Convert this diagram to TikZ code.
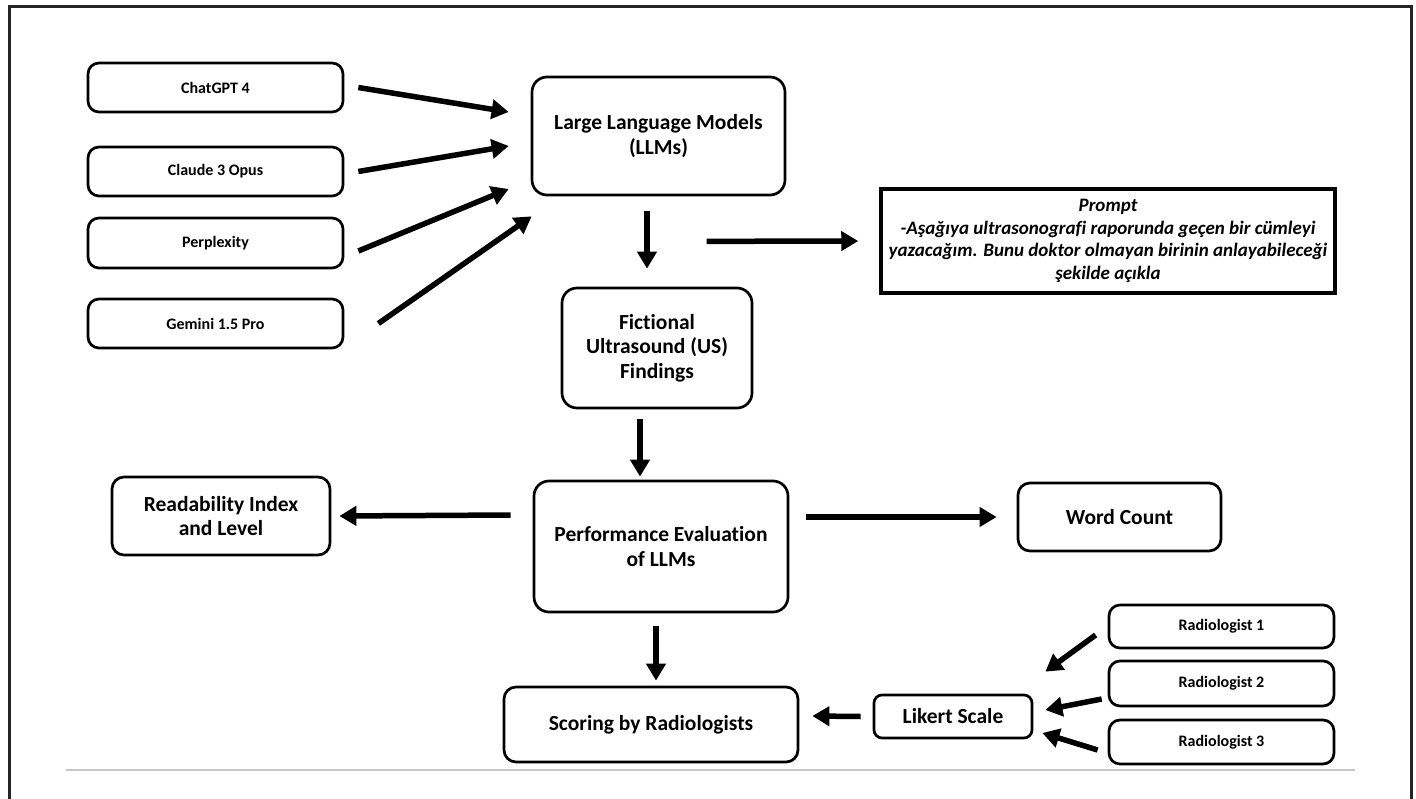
\documentclass[tikz,border=0pt]{standalone}
\usepackage{fontspec}
\setmainfont[Ligatures=NoCommon]{Carlito}
\usepackage{tikz}
\usetikzlibrary{arrows.meta}

\begin{document}
\begin{tikzpicture}[x=1pt,y=-1pt]
    \tikzstyle{smallbox}=[draw,rounded corners=11pt,line width=2.7pt,inner sep=0pt,align=center,font=\fontsize{16}{19}\selectfont\bfseries]
    \tikzstyle{bigbox}=[draw,rounded corners=15pt,line width=2.7pt,inner sep=0pt,align=center,font=\fontsize{21.5}{24.5}\selectfont\bfseries]
    \tikzstyle{arr}=[line width=5.5pt,-{Triangle[length=17pt,width=19pt]}]
    \useasboundingbox (0,0) rectangle (1416,799);
    \fill[white] (0,0) rectangle (1416,799);
    \draw[line width=3pt,black!85] (9,799) -- (9,7) -- (1411,7) -- (1411,799);
    \draw[line width=1.8pt,black!22] (66,770) -- (1355,770);
    \node (chatgpt)[smallbox,minimum width=255,minimum height=49] at (215.5,87.5) {ChatGPT 4};
    \node (claude)[smallbox,minimum width=255,minimum height=49] at (215.5,171.5) {Claude 3 Opus};
    \node (perplexity)[smallbox,minimum width=255,minimum height=50] at (215.5,243) {Perplexity};
    \node (gemini)[smallbox,minimum width=255,minimum height=49] at (215.5,323.5) {Gemini 1.5 Pro};
    \node (llm)[bigbox,minimum width=253,minimum height=118] at (658.5,136) {Large Language Models\\(LLMs)};
    \node (prompt)[draw,line width=3.5pt,inner sep=0pt,align=center,minimum width=454,minimum height=104,font=\fontsize{19}{22.7}\selectfont\bfseries\itshape] at (1108,241)
        {Prompt\\-Aşağıya ultrasonografi raporunda geçen bir cümleyi\\yazacağım. Bunu doktor olmayan birinin anlayabileceği\\şekilde açıkla};
    \node (fiction)[bigbox,minimum width=190,minimum height=120] at (657,348) {Fictional\\Ultrasound (US)\\Findings};
    \node (perf)[bigbox,minimum width=254,minimum height=131] at (661,546.5) {Performance Evaluation\\of LLMs};
    \node (readab)[bigbox,rounded corners=12pt,minimum width=218,minimum height=78] at (221,516) {Readability Index\\and Level};
    \node (wordcnt)[bigbox,rounded corners=12pt,minimum width=203,minimum height=68] at (1119.5,517) {Word Count};
    \node (scoring)[bigbox,rounded corners=12pt,minimum width=294,minimum height=75] at (651,724.5) {Scoring by Radiologists};
    \node (likert)[bigbox,rounded corners=8pt,minimum width=158,minimum height=43] at (953,716.5) {Likert Scale};
    \node (rad1)[smallbox,minimum width=225,minimum height=43] at (1221.5,626.5) {Radiologist 1};
    \node (rad2)[smallbox,minimum width=225,minimum height=45] at (1221.5,683.5) {Radiologist 2};
    \node (rad3)[smallbox,minimum width=225,minimum height=44] at (1221.5,742) {Radiologist 3};
    \draw[arr] ([shift={(14,0)}]chatgpt.east) -- ([shift={(-22,-24)}]llm.west);
    \draw[arr] ([shift={(14,0)}]claude.east) -- ([shift={(-22,10)}]llm.west);
    \draw[arr] ([shift={(14,8)}]perplexity.east) -- ([shift={(-22,53)}]llm.west);
    \draw[arr] ([shift={(34,0)}]gemini.east) -- ([shift={(1,20)}]llm.south west);
    \draw[arr] ([shift={(-11.5,15)}]llm.south) -- ([shift={(-10,-18)}]fiction.north);
    \draw[arr,shorten >=21pt] ([shift={(48,45)}]llm.south) -- (prompt.west);
    \draw[arr] ([shift={(-17,10)}]fiction.south) -- ([shift={(-21,-3)}]perf.north);
    \draw[arr] ([shift={(-22,-31.5)}]perf.west) -- ([shift={(8,0)}]readab.east);
    \draw[arr] ([shift={(17,-29.5)}]perf.east) -- ([shift={(-20,0)}]wordcnt.west);
    \draw[arr] ([shift={(-5,13)}]perf.south) -- ([shift={(5,-5)}]scoring.north);
    \draw[arr] ([shift={(-12,0)}]likert.west) -- ([shift={(13,-8.5)}]scoring.east);
    \draw[arr] ([shift={(-12,8.5)}]rad1.west) -- ([shift={(12,-22)}]likert.north east);
    \draw[arr] ([shift={(-6,15.5)}]rad2.west) -- ([shift={(12,-6.5)}]likert.east);
    \draw[arr] ([shift={(-10,8)}]rad3.west) -- ([shift={(9,16.5)}]likert.east);
\end{tikzpicture}
\end{document}
